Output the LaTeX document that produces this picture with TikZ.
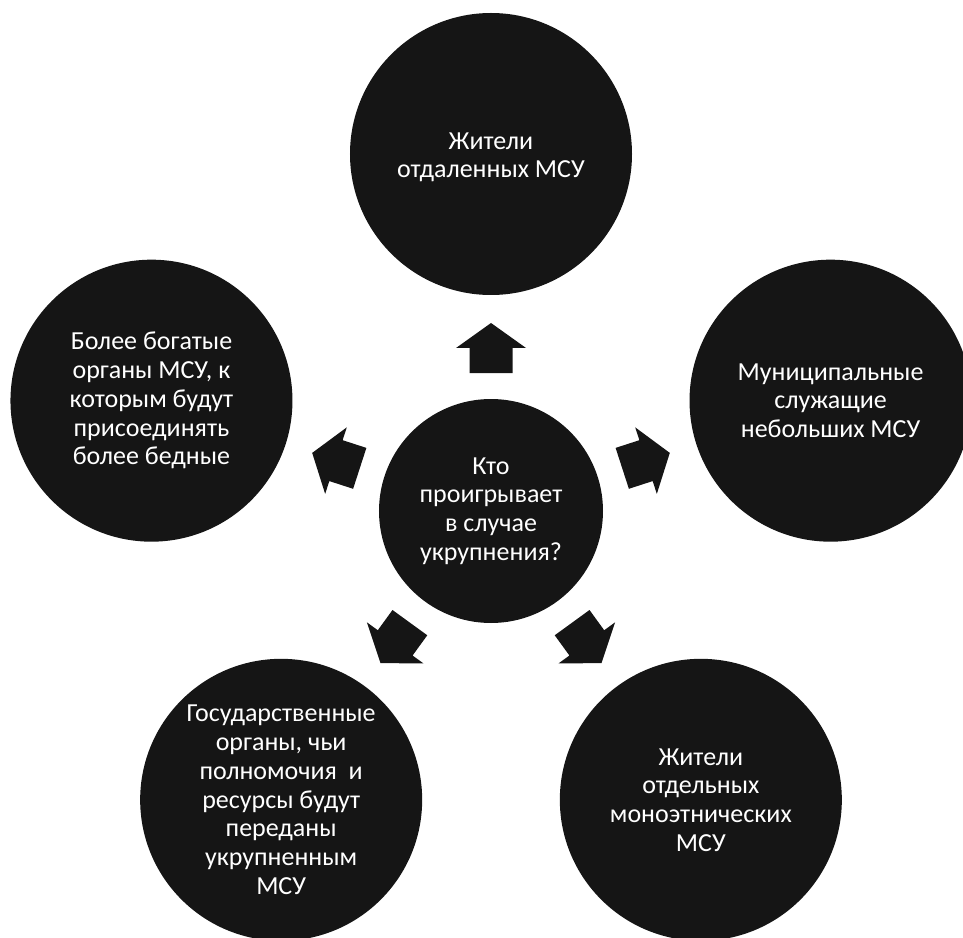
\documentclass[tikz,border=0pt]{standalone}
\usepackage{fontspec}
\setmainfont{Carlito}
\usetikzlibrary{positioning}
\definecolor{disc}{RGB}{21,21,21}
\tikzset{
  node-hub/.style={circle,fill=disc,minimum size=224pt,inner sep=0pt,text=white,align=center,font=\fontsize{26}{28.7}\selectfont},
  node-out/.style={circle,fill=disc,minimum size=282pt,inner sep=0pt,text=white,align=center,font=\fontsize{26}{28.7}\selectfont},
  blockarrow/.style={fill=disc},
}

\begin{document}
\begin{tikzpicture}[x=1pt,y=1pt]

  \useasboundingbox (-491,-426) rectangle (472,511);

  % centre
  \node[node-hub] (hub) at (0,0) {Кто\\проигрывает\\в случае\\укрупнения?};

  % five outer circles on a pentagon round the hub
  \node[node-out,text height=52pt] (remote) at (90:357)  {Жители\\отдаленных МСУ};
  \node[node-out] (staff)  at (18:357)  {Муниципальные\\служащие\\небольших МСУ};
  \node[node-out] (ethnic) at (-54:357) {Жители\\отдельных\\моноэтнических\\МСУ};
  \node[node-out] (state)  at (234:357) {Государственные\\органы, чьи\\полномочия \ и\\ресурсы будут\\переданы\\укрупненным\\МСУ};
  \node[node-out] (rich)   at (162:357) {Более богатые\\органы МСУ, к\\которым будут\\присоединять\\более бедные};

  % block arrows pointing out from the hub
  \foreach \ang in {90,18,-54,234,162}
    \fill[blockarrow,rotate=\ang] (138,-21.5) -- (163,-21.5) -- (163,-35) -- (188,0)
      -- (163,35) -- (163,21.5) -- (138,21.5) -- cycle;

\end{tikzpicture}
\end{document}
